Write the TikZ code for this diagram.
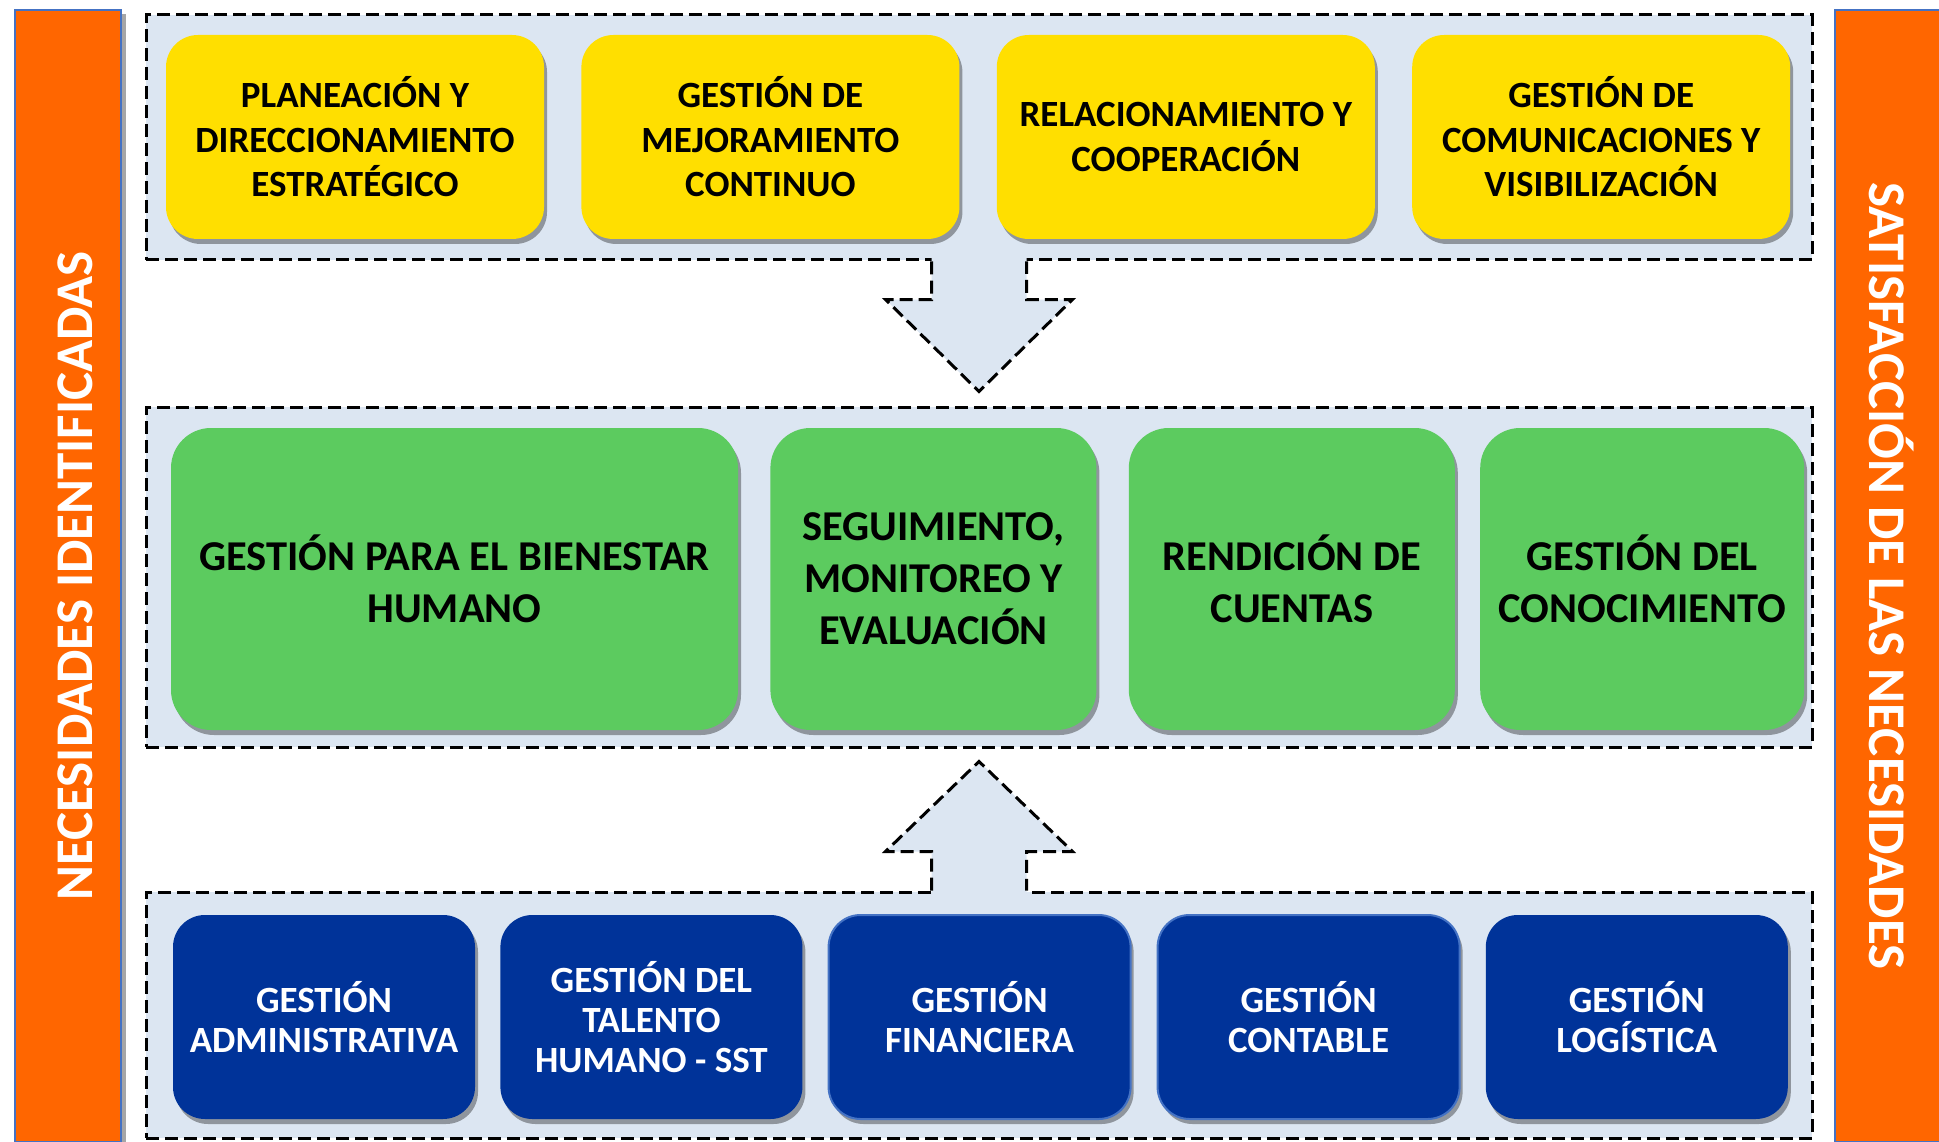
\documentclass[tikz,border=0pt]{standalone}
\usepackage{fontspec}
\setmainfont{Carlito}
\usetikzlibrary{calc,positioning,shadows}

\definecolor{orangebar}{RGB}{255,102,0}
\definecolor{barline}{RGB}{68,114,196}
\definecolor{panelfill}{RGB}{220,230,242}
\definecolor{yellowfill}{RGB}{255,223,0}
\definecolor{greenfill}{RGB}{92,203,95}
\definecolor{bluefill}{RGB}{0,51,153}

\begin{document}
\begin{tikzpicture}[
    x=1pt, y=-1pt,
    panel/.style     = {draw, fill=panelfill, line width=3pt, dash pattern=on 13pt off 6pt, inner sep=0pt},
    blockarrow/.style= {draw, line width=3pt, dash pattern=on 13pt off 6pt},
    box/.style       = {rounded corners=32pt, inner sep=0pt, align=center,
                        drop shadow={shadow xshift=3pt, shadow yshift=-5pt, opacity=.35, fill=black}},
    ybox/.style      = {box, fill=yellowfill, minimum width=378pt, minimum height=204pt,
                        font=\fontsize{37}{44.5}\selectfont\bfseries},
    gbox/.style      = {box, fill=greenfill, rounded corners=40pt, minimum height=302pt,
                        font=\fontsize{42.5}{52}\selectfont\bfseries},
    bbox/.style      = {box, fill=bluefill, text=white, minimum width=302pt, minimum height=204pt,
                        font=\fontsize{37}{40}\selectfont\bfseries},
    bboxline/.style  = {bbox, draw=barline, line width=2pt},
    sidebar/.style   = {fill=orangebar, draw=barline, line width=1.5pt, inner sep=0pt,
                        drop shadow={shadow xshift=5pt, shadow yshift=-4pt, opacity=.35, fill=black}},
    sidetext/.style  = {text=white, font=\fontsize{53}{53}\selectfont\bfseries,
                        text height=35pt, text depth=0pt, inner sep=0pt},
  ]
  \useasboundingbox (0,0) rectangle (1939,1142);

  % Seitenbalken
  \node[sidebar, minimum width=106pt, minimum height=1132pt] (needs) at (68,576) {};
  \node[sidetext, rotate=90] (needstext) at (75,576) {NECESIDADES IDENTIFICADAS};
  \node[sidebar, minimum width=110pt, minimum height=1132pt] (satis) at (1890,576) {};
  \node[sidetext, rotate=-90] (satistext) at (1887,576) {SATISFACCIÓN DE LAS NECESIDADES};

  % Rahmen
  \node[panel, minimum width=1666pt, minimum height=245pt] (toppanel) at (979,137.5) {};
  \node[panel, minimum width=1666pt, minimum height=340pt] (midpanel) at (979,577) {};
  \node[panel, minimum width=1666pt, minimum height=246pt] (botpanel) at (979,1015) {};

  % Pfeil oben -> Mitte
  \fill[panelfill] ($(toppanel.south)+(-47.5,-5)$) -- ++(0,43) -- ++(-46,0)
    -- ($(midpanel.north)+(0,-14)$) -- ($(toppanel.south)+(93.5,38)$) -- ++(-46,0) -- ++(0,-43) -- cycle;
  \draw[blockarrow] ($(toppanel.south)+(-47.5,0)$) -- ++(0,38) -- ++(-46,0)
    -- ($(midpanel.north)+(0,-14)$) -- ($(toppanel.south)+(93.5,38)$) -- ++(-46,0) -- ++(0,-38);

  % Pfeil unten -> Mitte
  \fill[panelfill] ($(botpanel.north)+(-47.5,5)$) -- ++(0,-44) -- ++(-46,0)
    -- ($(midpanel.south)+(0,13)$) -- ($(botpanel.north)+(93.5,-39)$) -- ++(-46,0) -- ++(0,44) -- cycle;
  \draw[blockarrow] ($(botpanel.north)+(-47.5,0)$) -- ++(0,-39) -- ++(-46,0)
    -- ($(midpanel.south)+(0,13)$) -- ($(botpanel.north)+(93.5,-39)$) -- ++(-46,0) -- ++(0,39);

  % obere Reihe
  \node[ybox] (plan) at (355,137) {PLANEACIÓN Y\\DIRECCIONAMIENTO\\ESTRATÉGICO};
  \node[ybox, right=37pt of plan] (mejora) {GESTIÓN DE\\MEJORAMIENTO\\CONTINUO};
  \node[ybox, right=37pt of mejora] (relac) {RELACIONAMIENTO Y\\COOPERACIÓN};
  \node[ybox, right=37pt of relac] (comun) {GESTIÓN DE\\COMUNICACIONES Y\\VISIBILIZACIÓN};

  % mittlere Reihe
  \node[gbox, minimum width=567pt] (bienestar) at (454.5,579) {GESTIÓN PARA EL BIENESTAR\\HUMANO};
  \node[gbox, minimum width=326pt, right=32pt of bienestar] (seguim) {SEGUIMIENTO,\\MONITOREO Y\\EVALUACIÓN};
  \node[gbox, minimum width=326pt, right=32pt of seguim] (rendic) {RENDICIÓN DE\\CUENTAS};
  \node[gbox, minimum width=324pt, right=25pt of rendic] (conoc) {GESTIÓN DEL\\CONOCIMIENTO};

  % untere Reihe
  \node[bbox] (admin) at (324,1017) {GESTIÓN\\ADMINISTRATIVA};
  \node[bbox, right=25pt of admin] (talento) {GESTIÓN DEL\\TALENTO\\HUMANO - SST};
  \node[bboxline, right=25pt of talento] (finan) {GESTIÓN\\FINANCIERA};
  \node[bboxline, right=25pt of finan] (contab) {GESTIÓN\\CONTABLE};
  \node[bbox, right=25pt of contab] (logist) {GESTIÓN\\LOGÍSTICA};

\end{tikzpicture}
\end{document}
